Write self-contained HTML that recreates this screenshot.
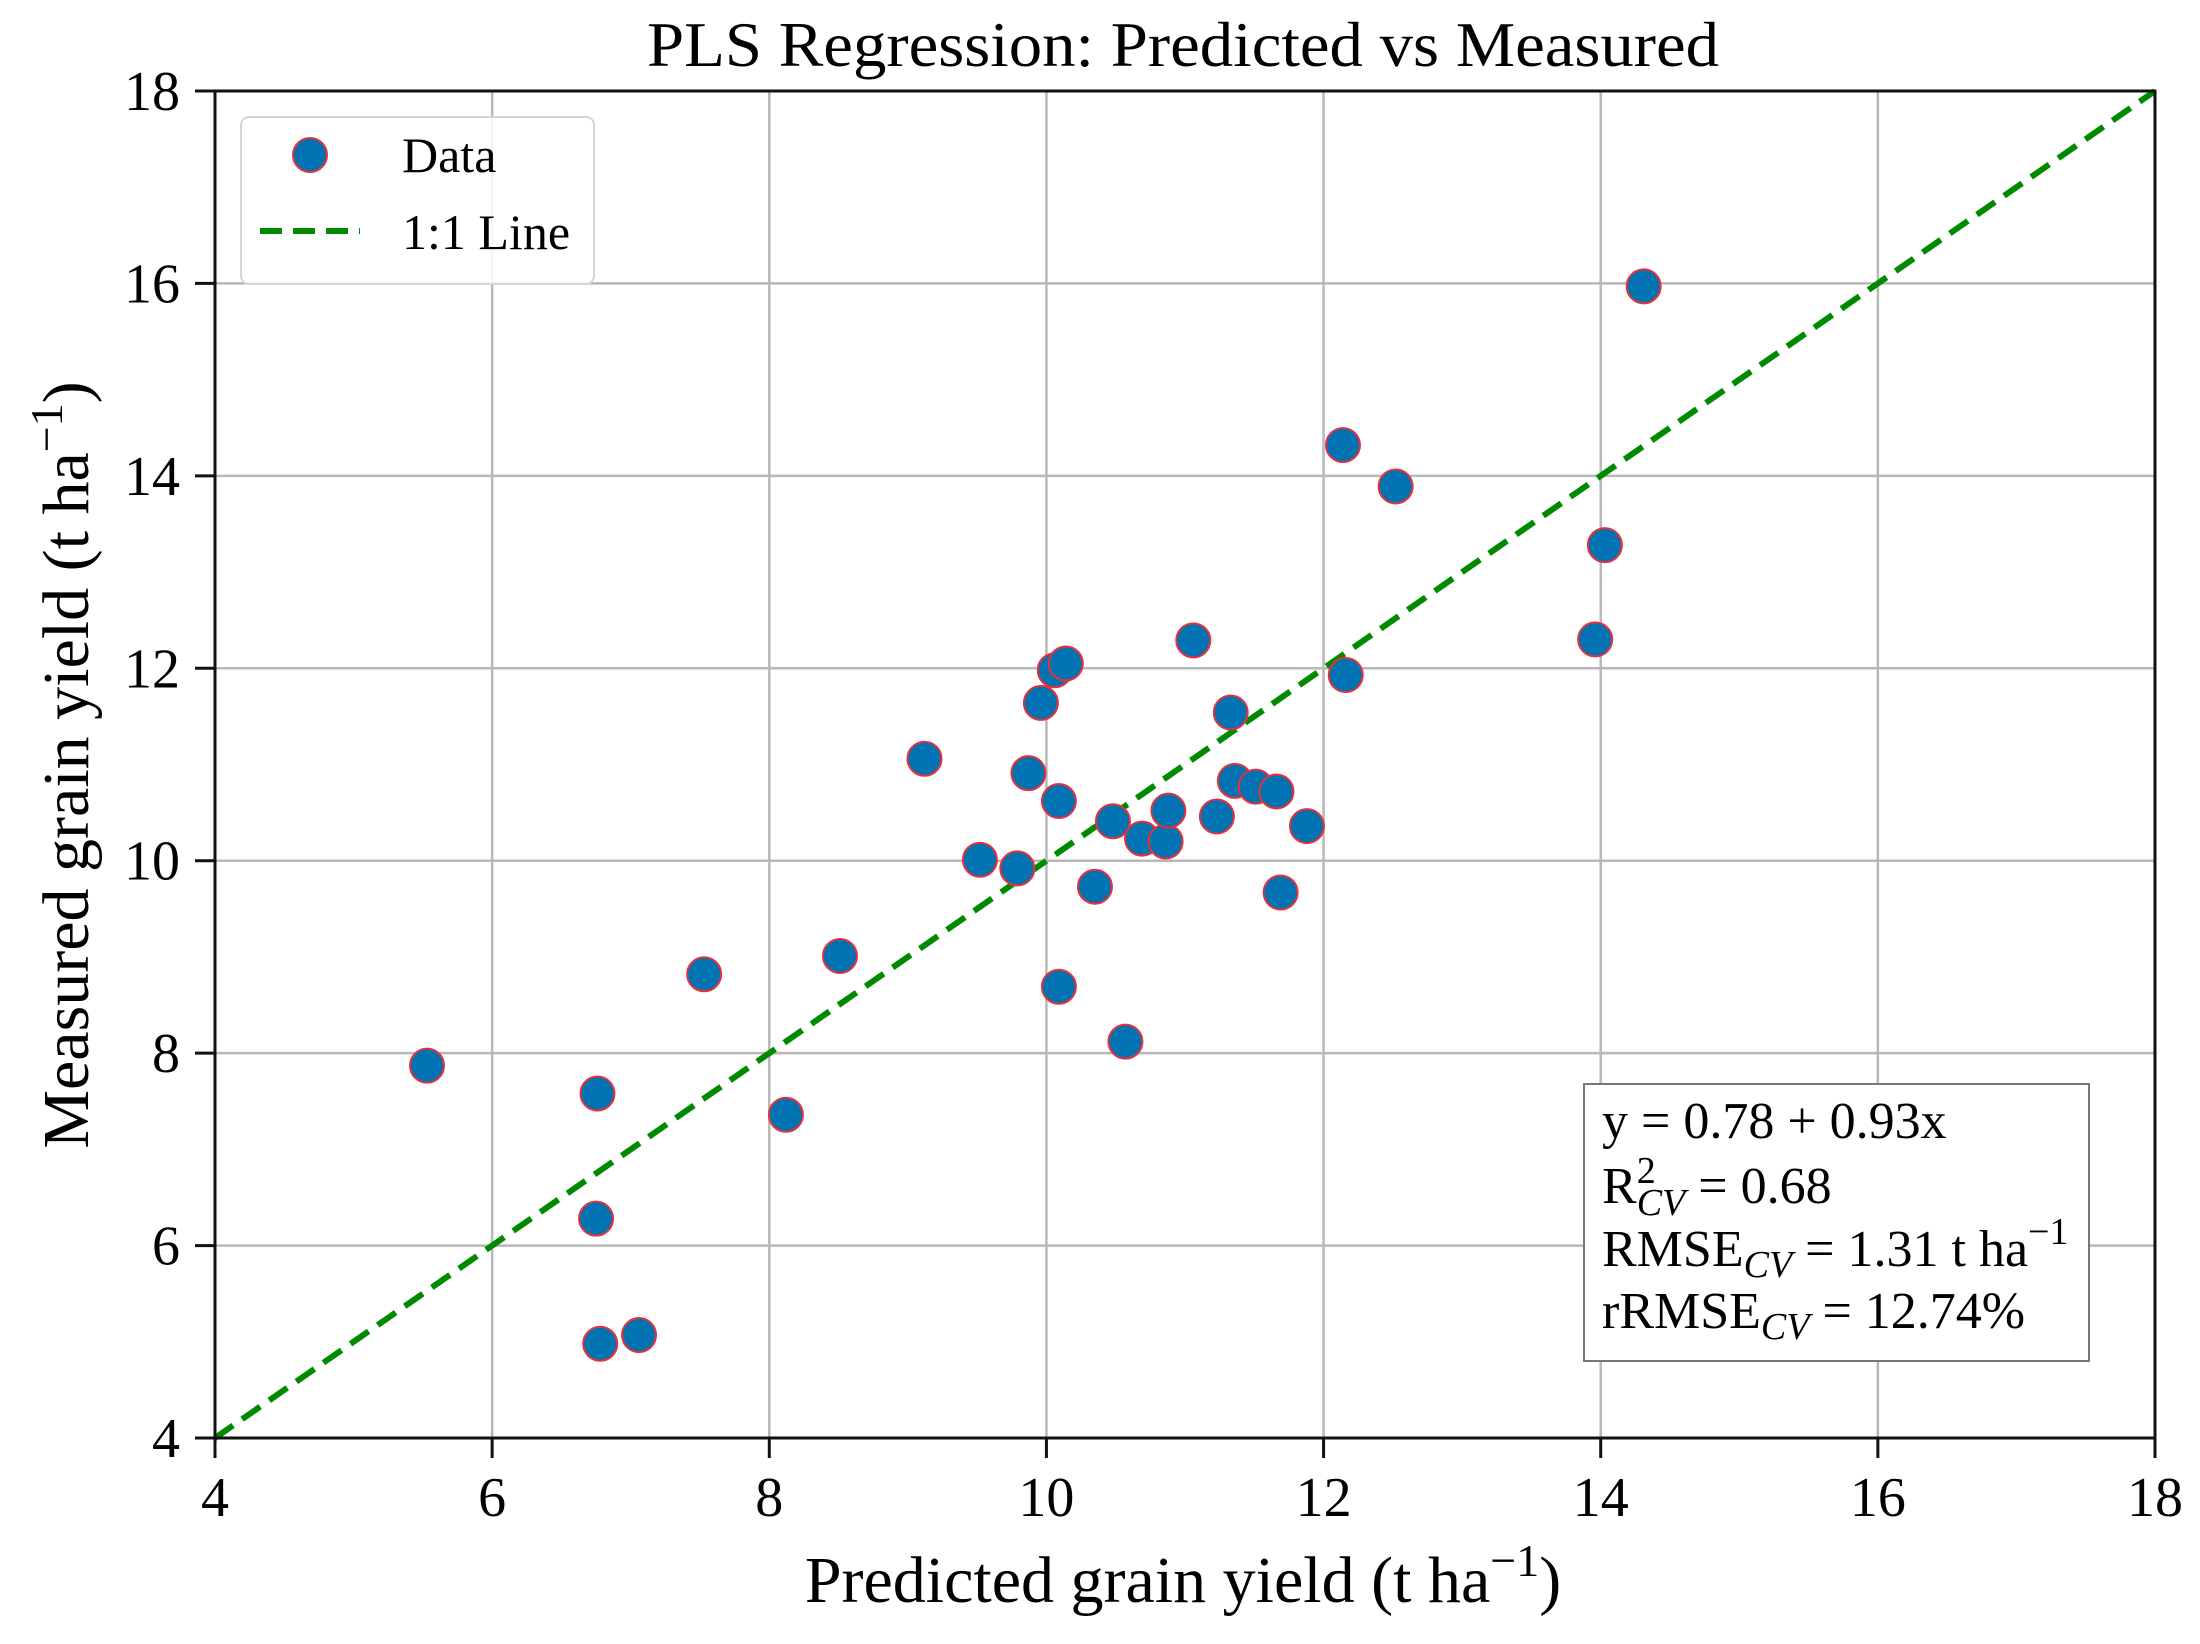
<!DOCTYPE html>
<html><head><meta charset="utf-8"><style>
html,body{margin:0;padding:0;background:#fff;}
svg{display:block;font-family:"Liberation Serif",serif;}
</style></head><body>
<svg id="chart" width="2200" height="1644" viewBox="0 0 2200 1644" xmlns="http://www.w3.org/2000/svg">
<rect x="0" y="0" width="2200" height="1644" fill="#fff"/>
<g id="grid"></g>
<g id="oneline"></g>
<g id="points"></g>
<g id="axes"></g>
<text x="1183" y="66" font-size="64" text-anchor="middle" textLength="1072" lengthAdjust="spacingAndGlyphs">PLS Regression: Predicted vs Measured</text>
<text x="1183" y="1602" font-size="66" text-anchor="middle">Predicted grain yield (t ha<tspan font-size="46" dy="-26">−1</tspan><tspan dy="26">)</tspan></text>
<text transform="translate(88,765) rotate(-90)" font-size="66" text-anchor="middle">Measured grain yield (t ha<tspan font-size="46" dy="-26">−1</tspan><tspan dy="26">)</tspan></text>
<g>
<rect x="241" y="117" width="353" height="167" rx="8" fill="#fff" fill-opacity="0.85" stroke="#d6d6d6" stroke-width="2"/>
<circle cx="310" cy="155" r="17" fill="#0173b2" stroke="#e8303a" stroke-width="2"/>
<text x="402" y="172" font-size="50">Data</text>
<line x1="260" y1="231" x2="360" y2="231" stroke="#008a00" stroke-width="6" stroke-dasharray="22,11"/>
<text x="402" y="249" font-size="50">1:1 Line</text>
</g>
<g>
<rect x="1584" y="1084" width="505" height="277" fill="#fff" stroke="#777" stroke-width="2"/>
<text x="1602" y="1138" font-size="52">y = 0.78 + 0.93x</text>
<text x="1602" y="1203" font-size="52">R<tspan font-size="38" dy="-20">2</tspan><tspan font-size="38" font-style="italic" dx="-19" dy="32">CV</tspan><tspan dy="-12"> = 0.68</tspan></text>
<text x="1602" y="1266" font-size="52">RMSE<tspan font-size="38" font-style="italic" dy="11">CV</tspan><tspan dy="-11"> = 1.31 t ha</tspan><tspan font-size="38" dy="-22">−1</tspan></text>
<text x="1602" y="1328" font-size="52">rRMSE<tspan font-size="38" font-style="italic" dy="11">CV</tspan><tspan dy="-11"> = 12.74%</tspan></text>
</g>
</svg>
<script>
const xTicks = [4, 6, 8, 10, 12, 14, 16, 18];
const yTicks = [4, 6, 8, 10, 12, 14, 16, 18];
const predicted = [5.53, 6.76, 6.75, 6.78, 7.06, 7.53, 8.12, 8.51, 9.12, 9.52, 9.79, 9.87, 9.96, 10.06, 10.14, 10.09, 10.09, 10.35, 10.48, 10.57, 10.69, 10.86, 10.88, 11.06, 11.23, 11.33, 11.36, 11.51, 11.66, 11.69, 11.88, 12.14, 12.16, 12.52, 13.96, 14.03, 14.31];
const measured = [7.87, 7.58, 6.28, 4.98, 5.07, 8.82, 7.36, 9.01, 11.06, 10.01, 9.92, 10.91, 11.64, 11.98, 12.05, 10.62, 8.69, 9.73, 10.41, 8.12, 10.23, 10.20, 10.52, 12.29, 10.46, 11.54, 10.83, 10.77, 10.72, 9.67, 10.36, 14.32, 11.93, 13.89, 12.30, 13.28, 15.97];
const lineEnds = [4, 18];

const NS = "http://www.w3.org/2000/svg";
const X0 = 215, X1 = 2155, Y0 = 1438, Y1 = 91;
const xMin = 4, xMax = 18, yMin = 4, yMax = 18;
function sx(v){ return X0 + (v - xMin) / (xMax - xMin) * (X1 - X0); }
function sy(v){ return Y0 - (v - yMin) / (yMax - yMin) * (Y0 - Y1); }
function mk(tag, attrs, parent){
  const e = document.createElementNS(NS, tag);
  for (const k in attrs) e.setAttribute(k, attrs[k]);
  parent.appendChild(e);
  return e;
}
const grid = document.getElementById('grid');
const axes = document.getElementById('axes');
xTicks.forEach(t => {
  const g = mk('line', {x1: sx(t), x2: sx(t), y1: Y1, y2: Y0, stroke: '#b8b8b8', 'stroke-width': 2.5}, grid);
  
  
  const tk = mk('line', {x1: sx(t), x2: sx(t), y1: Y0, y2: Y0 + 20, stroke: '#111', 'stroke-width': 3}, axes);
  
  
  const lb = mk('text', {x: sx(t), y: 1516, 'font-size': 56, 'text-anchor': 'middle'}, axes);
  lb.textContent = t;
  
  
});
yTicks.forEach(t => {
  const g = mk('line', {x1: X0, x2: X1, y1: sy(t), y2: sy(t), stroke: '#b8b8b8', 'stroke-width': 2.5}, grid);
  
  
  const tk = mk('line', {x1: X0 - 20, x2: X0, y1: sy(t), y2: sy(t), stroke: '#111', 'stroke-width': 3}, axes);
  
  
  const lb = mk('text', {x: 180, y: sy(t) + 19, 'font-size': 56, 'text-anchor': 'end'}, axes);
  lb.textContent = t;
  
  
});
const frame = mk('rect', {x: X0, y: Y1, width: X1 - X0, height: Y0 - Y1, fill: 'none', stroke: '#111', 'stroke-width': 3}, axes);



const ol = mk('line', {x1: sx(lineEnds[0]), y1: sy(lineEnds[0]), x2: sx(lineEnds[1]), y2: sy(lineEnds[1]), stroke: '#008a00', 'stroke-width': 6, 'stroke-dasharray': '22,11'}, document.getElementById('oneline'));



const pts = document.getElementById('points');
predicted.forEach((p, i) => {
  const c = mk('circle', {cx: sx(p), cy: sy(measured[i]), r: 17, fill: '#0173b2', stroke: '#e8303a', 'stroke-width': 2}, pts);
  
  
});
</script>
</body></html>
